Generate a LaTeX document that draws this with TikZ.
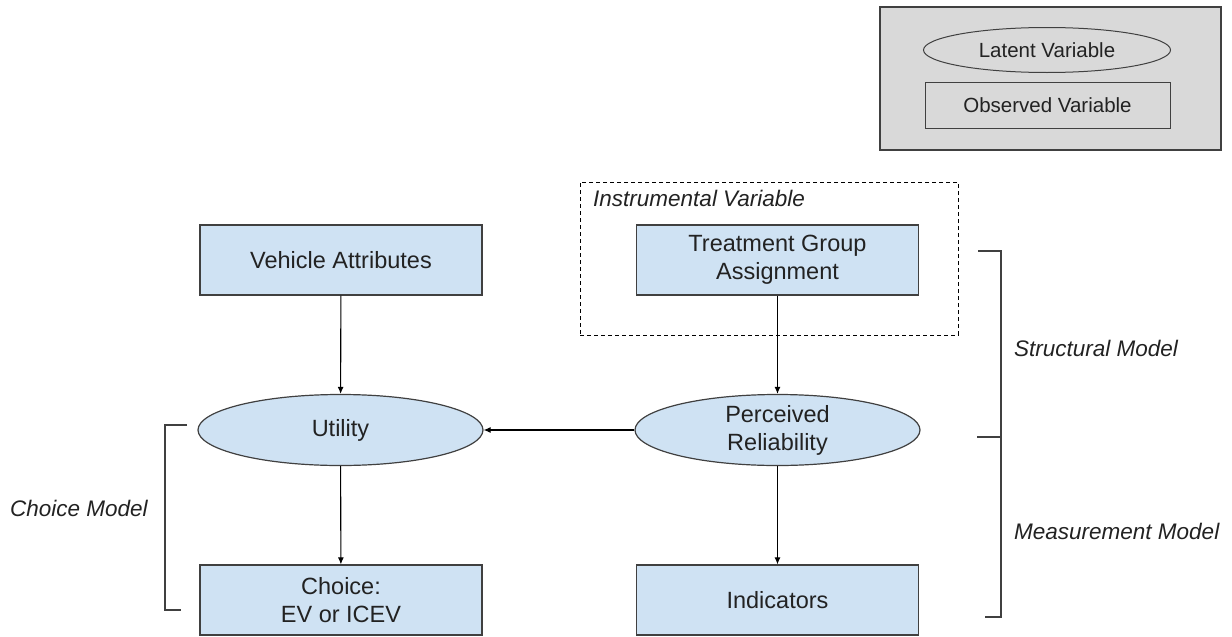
\documentclass[tikz,border=0pt]{standalone}
\usepackage{fontspec}
\setmainfont{Liberation Sans}
\usetikzlibrary{arrows.meta,shapes.geometric}
\definecolor{nodeblue}{HTML}{CFE2F3}
\definecolor{edgegray}{HTML}{404040}
\definecolor{legendgray}{HTML}{D9D9D9}
\definecolor{textgray}{HTML}{222222}
\begin{document}
\begin{tikzpicture}[x=1pt,y=-1pt,
  obsbox/.style={draw=edgegray,line width=1.2pt,fill=nodeblue,minimum width=282pt,minimum height=70pt,inner sep=0pt,font=\fontsize{23.5}{28}\selectfont,align=center,text=textgray},
  latent/.style={ellipse,draw=edgegray,line width=1.2pt,fill=nodeblue,minimum width=285pt,minimum height=71pt,inner sep=0pt,font=\fontsize{23.5}{28}\selectfont,align=center,text=textgray},
  link/.style={draw=black,line width=1.1pt,-{Latex[length=7pt,width=6pt]}},
  brace/.style={draw=edgegray,line width=1.2pt},
  lab/.style={font=\fontsize{22.5}{26}\selectfont\itshape,anchor=west,inner sep=0pt,text=textgray}]
\useasboundingbox (0,0) rectangle (1232,637);
% legend
\node[draw=edgegray,line width=1.2pt,fill=legendgray,minimum width=341pt,minimum height=143pt,inner sep=0pt] (legend) at (1050.5,78.5) {};
\node[ellipse,draw=edgegray,line width=1pt,fill=legendgray,minimum width=247pt,minimum height=45pt,inner sep=0pt,font=\fontsize{20.5}{24}\selectfont,text=textgray] (leglat) at (1047,50) {Latent Variable};
\node[draw=edgegray,line width=1pt,fill=legendgray,minimum width=245pt,minimum height=46pt,inner sep=0pt,font=\fontsize{20.5}{24}\selectfont,text=textgray] (legobs) at (1047.5,105) {Observed Variable};
% instrumental variable box
\node[draw=black,dash pattern=on 4pt off 3pt,line width=1pt,minimum width=378pt,minimum height=153pt,inner sep=0pt] (ivbox) at (769,258.5) {};
\node[lab,anchor=base west] (ivlab) at (593,206) {Instrumental Variable};
% nodes
\node[obsbox] (veh) at (341,260) {Vehicle Attributes};
\node[obsbox] (treat) at (777.5,260) {Treatment Group\\Assignment};
\node[latent] (util) at (340.5,430) {Utility};
\node[latent] (perc) at (777.5,430) {Perceived\\Reliability};
\node[obsbox] (choice) at (341,600) {Choice:\\EV or ICEV};
\node[obsbox] (ind) at (777.5,600) {Indicators};
% links
\draw[link] (veh) -- (util);
\draw[link] (treat) -- (perc);
\draw[link] (perc) -- (util);
\draw[link] (util) -- (choice);
\draw[link] (perc) -- (ind);
% right bracket
\coordinate (rt) at (978,251);
\coordinate (rtc) at (1001,251);
\coordinate (rm) at (977,437);
\coordinate (rmc) at (1001,437);
\coordinate (rb) at (985,617);
\coordinate (rbc) at (1001,617);
\draw[brace] (rt) -- (rtc) -- (rbc) -- (rb);
\draw[brace] (rm) -- (rmc);
\node[lab] (struct) at (1014,348) {Structural Model};
\node[lab] (meas) at (1014,531) {Measurement Model};
% left bracket
\coordinate (lt) at (187,425);
\coordinate (ltc) at (165,425);
\coordinate (lbc) at (165,610);
\coordinate (lb) at (181,610);
\draw[brace] (lt) -- (ltc) -- (lbc) -- (lb);
\node[lab] (choicemodel) at (10,508) {Choice Model};
\end{tikzpicture}
\end{document}
